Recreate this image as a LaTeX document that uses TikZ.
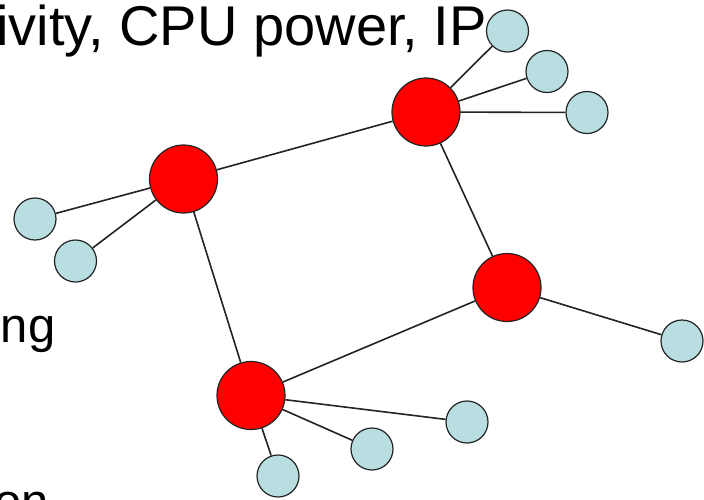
\documentclass[tikz,border=0pt]{standalone}
\usepackage{fontspec}
\setmainfont{Liberation Sans}
\definecolor{hubred}{RGB}{255,0,0}
\definecolor{leafblue}{RGB}{184,222,226}
\definecolor{edgegray}{RGB}{35,35,35}
\begin{document}
\begin{tikzpicture}[x=1pt,y=-1pt,
  hub/.style={circle,draw=edgegray,line width=1.2pt,fill=hubred,minimum size=68pt,inner sep=0pt},
  leaf/.style={circle,draw=edgegray,line width=1.2pt,fill=leafblue,minimum size=42pt,inner sep=0pt},
  link/.style={draw=edgegray,line width=1.6pt},
  big/.style={inner sep=0pt,font=\fontsize{56}{60}\selectfont},
  small/.style={inner sep=0pt,font=\fontsize{49}{54}\selectfont}]
\path[use as bounding box,fill=white] (0,0) rectangle (704,499);
% text
\node[big,anchor=base west] (t1) at (-4,45) {ivity, CPU power, IP};
\node[small,anchor=base east] (t2) at (55.5,342) {ng};
\node[small,anchor=base west] (t3) at (-6,518) {on};
% hubs
\node[hub] (A) at (183.5,179) {};
\node[hub] (B) at (426,112) {};
\node[hub] (C) at (507,287.5) {};
\node[hub] (D) at (251,395.5) {};
% leaves
\node[leaf] (a1) at (35,219) {};
\node[leaf] (a2) at (75.5,261) {};
\node[leaf] (b1) at (507.5,31) {};
\node[leaf] (b2) at (547,71.5) {};
\node[leaf] (b3) at (587,112.5) {};
\node[leaf] (c1) at (682,341) {};
\node[leaf] (d1) at (467,422) {};
\node[leaf] (d2) at (372,449) {};
\node[leaf] (d3) at (278,476) {};
% links
\path[link] (A) -- (B);
\path[link] (A) -- (D);
\path[link] (B) -- (C);
\path[link] (C) -- (D);
\path[link] (A) -- (a1);
\path[link] (A) -- (a2);
\path[link] (B) -- (b1);
\path[link] (B) -- (b2);
\path[link] (B) -- (b3);
\path[link] (C) -- (c1);
\path[link] (D) -- (d1);
\path[link] (D) -- (d2);
\path[link] (D) -- (d3);
\end{tikzpicture}
\end{document}
